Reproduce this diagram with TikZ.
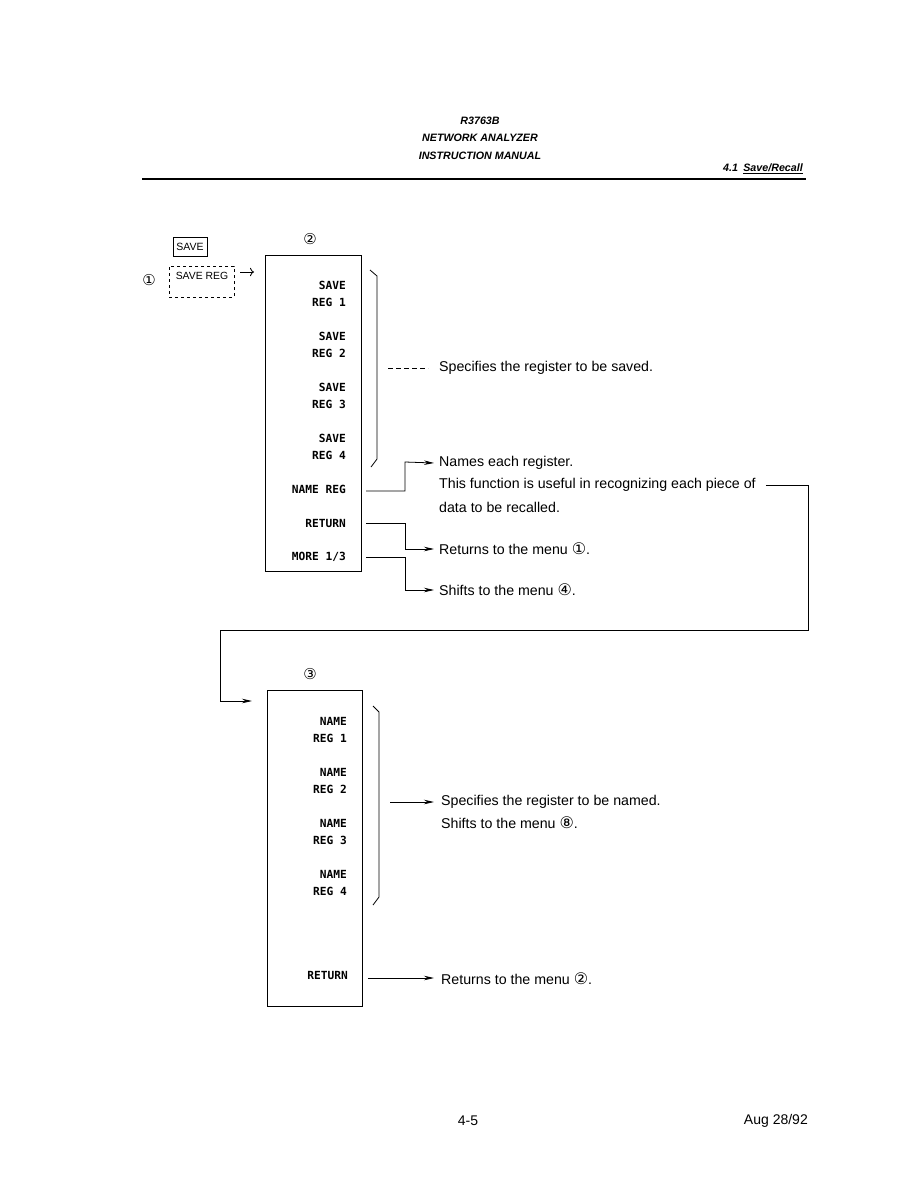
\documentclass[tikz,border=0pt]{standalone}
\usepackage{fontspec}
\setmainfont{Liberation Sans}
\newfontfamily\dv{DejaVu Sans}
\newfontfamily\mono{DejaVu Sans Mono}
\usetikzlibrary{arrows.meta}
\newcommand{\cnum}[1]{{\dv\fontsize{16}{16}\selectfont #1}}
\begin{document}
\begin{tikzpicture}[x=1pt,y=-1pt,
  hdr/.style={font=\fontsize{10.7}{12}\selectfont\bfseries\itshape, inner sep=0pt},
  item/.style={font=\mono\fontsize{11.2}{12}\selectfont\bfseries, anchor=east, inner sep=0pt},
  txt/.style={font=\fontsize{14.2}{16}\selectfont, anchor=west, inner sep=0pt},
  menubox/.style={draw, line width=0.9pt, inner sep=0pt},
  arr/.style={line width=0.8pt, -{Stealth[length=10pt,width=4.5pt]}},
  circ/.style={font=\dv\fontsize{15}{16}\selectfont, inner sep=0pt}
]
\useasboundingbox (0,0) rectangle (918,1188);
\fill[white] (0,0) rectangle (918,1188);

% header
\node[hdr] (h1) at (480,121) {R3763B};
\node[hdr] (h2) at (480,138) {NETWORK ANALYZER};
\node[hdr] (h3) at (480,156) {INSTRUCTION MANUAL};
\node[hdr, anchor=east] (sec) at (803,169) {4.1\enspace\underline{Save/Recall}};
\coordinate (rl) at (142,179);
\coordinate (rr) at (806,179);
\draw[line width=1.2pt] (rl) -- (rr);

% menu 1
\node[draw, line width=0.8pt, font=\fontsize{10.5}{11}\selectfont, inner sep=2pt, minimum width=34pt, minimum height=19pt] (savek) at (190,246.5) {SAVE};
\node[circ] (c1) at (149,280) {①};
\node[draw, dashed, line width=0.8pt, minimum width=65pt, minimum height=31pt, inner sep=0pt] (savereg) at (201.5,281.5) {};
\node[font=\fontsize{10.4}{11}\selectfont, inner sep=0pt] (saveregt) at (202,276) {SAVE REG};
\coordinate (a1s) at (240,272);
\coordinate (a1e) at (254,272);
\draw[line width=0.8pt, -{To[length=4pt]}] (a1s) -- (a1e);

% menu 2
\node[circ] (c2) at (310,239) {②};
\node[menubox, minimum width=96pt, minimum height=316pt] (box2) at (313,413) {};
\node[item] (s1) at (346,285) {SAVE};
\node[item] (r1) at (346,302) {REG 1};
\node[item] (s2) at (346,336) {SAVE};
\node[item] (r2) at (346,353) {REG 2};
\node[item] (s3) at (346,387) {SAVE};
\node[item] (r3) at (346,404) {REG 3};
\node[item] (s4) at (346,438) {SAVE};
\node[item] (r4) at (346,455) {REG 4};
\node[item] (nreg) at (346,489) {NAME REG};
\node[item] (ret2) at (346,523) {RETURN};
\node[item] (more) at (346,557) {MORE 1/3};

% bracket 2
\coordinate (b2a) at (370,270);
\coordinate (b2b) at (377,276);
\coordinate (b2c) at (377,459);
\coordinate (b2d) at (371,467);
\draw[line width=0.8pt] (b2a) -- (b2b) -- (b2c) -- (b2d);

\node[txt] (t0) at (439,368) {Specifies the register to be saved.};
\coordinate (d0) at (388,368);
\draw[line width=0.8pt, dash pattern=on 5pt off 3pt] (d0) -- ([xshift=-11pt]t0.west);

\node[txt] (t1) at (439,463) {Names each register.};
\node[txt] (t2) at (439,485) {This function is useful in recognizing each piece of};
\node[txt] (t3) at (439,507) {data to be recalled.};
\node[txt] (t4) at (439,549) {Returns to the menu \cnum{①}.};
\node[txt] (t5) at (439,590) {Shifts to the menu \cnum{④}.};

\draw[arr] ([xshift=20pt]nreg.east |- 0,491) -| (405,462) -- ([xshift=-5pt]t1.west);
\draw[arr] ([xshift=20pt]ret2.east) -| (405,549) -- ([xshift=-5pt]t4.west);
\draw[arr] ([xshift=20pt]more.east) -| (405,590) -- ([xshift=-5pt]t5.west);

% long connector to menu 3
\coordinate (lc1) at (808,485);
\coordinate (lc2) at (220,630);
\coordinate (lc3) at (252,701);
\draw[arr] ([xshift=10pt]t2.east) -- (lc1) |- (lc2) |- (lc3);

% menu 3
\node[circ] (c3) at (310,674) {③};
\node[menubox, minimum width=95pt, minimum height=316pt] (box3) at (314.5,848) {};
\node[item] (n1) at (347,721) {NAME};
\node[item] (q1) at (347,738) {REG 1};
\node[item] (n2) at (347,772) {NAME};
\node[item] (q2) at (347,789) {REG 2};
\node[item] (n3) at (347,823) {NAME};
\node[item] (q3) at (347,840) {REG 3};
\node[item] (n4) at (347,874) {NAME};
\node[item] (q4) at (347,891) {REG 4};
\node[item] (ret3) at (348,975) {RETURN};

\coordinate (b3a) at (373,706);
\coordinate (b3b) at (379,712);
\coordinate (b3c) at (379,897);
\coordinate (b3d) at (373,905);
\draw[line width=0.8pt] (b3a) -- (b3b) -- (b3c) -- (b3d);

\node[txt] (t6) at (441,802) {Specifies the register to be named.};
\node[txt] (t7) at (441,823) {Shifts to the menu \cnum{⑧}.};
\coordinate (a6) at (390,802);
\draw[arr] (a6) -- ([xshift=-7pt]t6.west);

\node[txt] (t8) at (441,979) {Returns to the menu \cnum{②}.};
\draw[arr] ([xshift=20pt]ret3.east |- 0,978) -- ([xshift=-7pt]t8.west |- 0,978);

% footer
\node[font=\fontsize{14}{15}\selectfont, inner sep=0pt] (pg) at (468,1121) {4-5};
\node[font=\fontsize{14}{15}\selectfont, inner sep=0pt, anchor=east] (dt) at (808,1121) {Aug 28/92};
\end{tikzpicture}
\end{document}
